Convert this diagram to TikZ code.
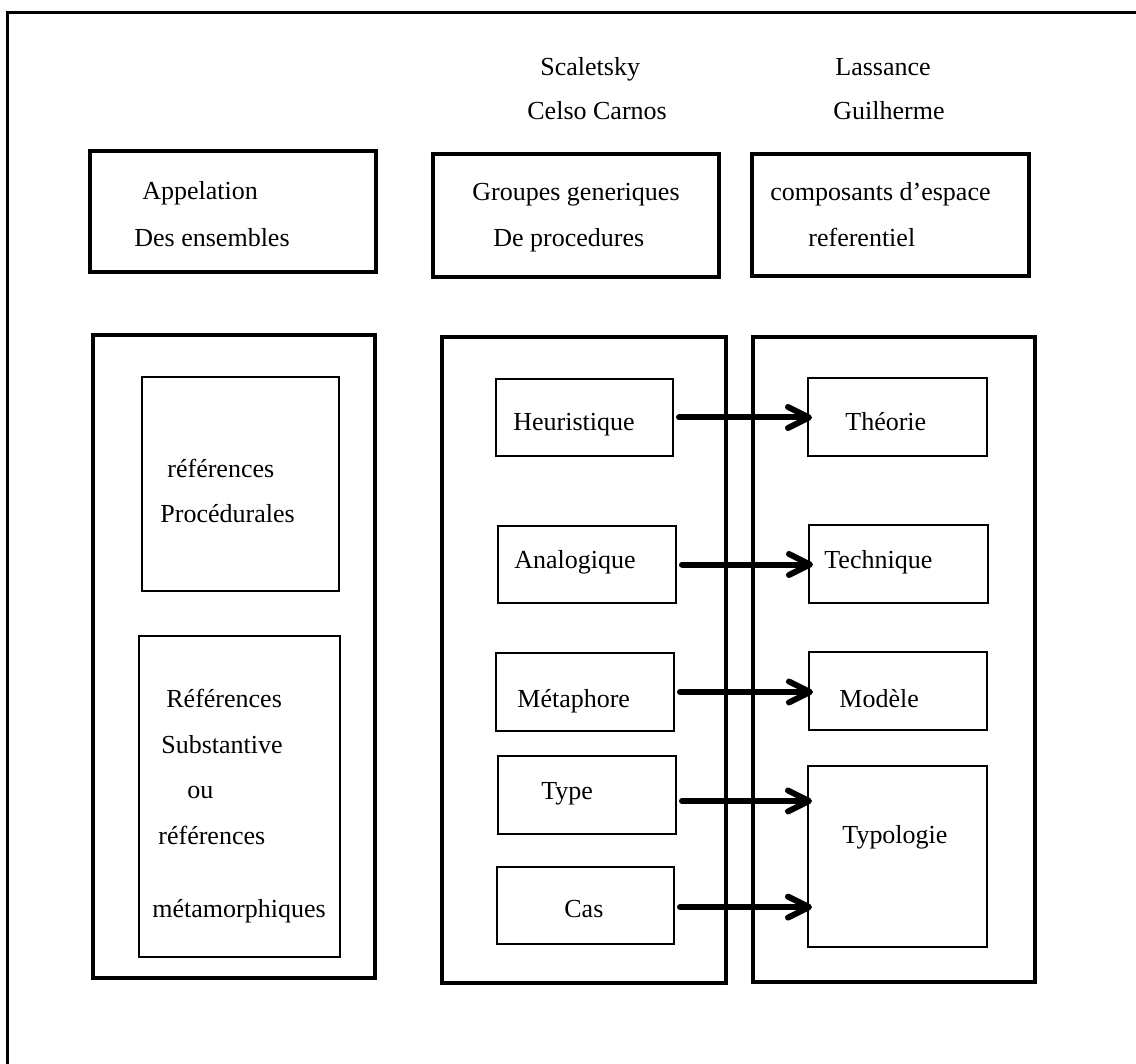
\documentclass[tikz,border=0pt]{standalone}
\usepackage{fontspec}
\setmainfont{Liberation Serif}
\usetikzlibrary{arrows.meta,fit}
\begin{document}
\begin{tikzpicture}[x=0.5pt,y=-0.5pt,
  thickbox/.style={draw,line width=2.2pt,inner sep=0pt,outer sep=0pt},
  bigbox/.style={draw,line width=2pt,inner sep=0pt,outer sep=0pt},
  thinbox/.style={draw,line width=0.9pt,inner sep=0pt,outer sep=0pt},
  txt/.style={anchor=base west,inner sep=0pt,font=\fontsize{13}{15}\selectfont},
  arr/.style={line width=3pt,line cap=round,
    -{Straight Barb[length=10.5pt,width=10.5pt,round]},
    shorten <=3pt,shorten >=-2pt}]
\fill[white] (0,0) rectangle (1136,1064);
\useasboundingbox (0,0) rectangle (1136,1064);

% page frame
\draw[line width=1.5pt] (1136,12.5) -- (7.5,12.5) -- (7.5,1064);

% author headings
\node[txt] (h1a) at (540,76) {Scaletsky};
\node[txt] (h1b) at (527,120) {Celso Carnos};
\node[txt] (h2a) at (835,76) {Lassance};
\node[txt] (h2b) at (833,120) {Guilherme};

% column titles
\node[thickbox,fit={(90,151) (376,272)}] (app) {};
\node[thickbox,fit={(433,154) (719,277)}] (grp) {};
\node[thickbox,fit={(752,154) (1029,276)}] (cmp) {};
\node[txt] (t1a) at (142,200) {Appelation};
\node[txt] (t1b) at (134,247) {Des ensembles};
\node[txt] (t2a) at (472,201) {Groupes generiques};
\node[txt] (t2b) at (493,247) {De procedures};
\node[txt] (t3a) at (770,201) {composants d’espace};
\node[txt] (t3b) at (808,247) {referentiel};

% column frames
\node[bigbox,fit={(93,335) (375,978)}] (colL) {};
\node[bigbox,fit={(442,337) (726,983)}] (colM) {};
\node[bigbox,fit={(753,337) (1035,982)}] (colR) {};

% left column
\node[thinbox,fit={(142,377) (339,591)}] (proc) {};
\node[txt] at (167,477) {références};
\node[txt] at (160,522) {Procédurales};
\node[thinbox,fit={(139,636) (340,957)}] (subst) {};
\node[txt] at (166,707) {Références};
\node[txt] at (161,753) {Substantive};
\node[txt] at (187,798) {ou};
\node[txt] at (158,844) {références};
\node[txt] at (152,917) {métamorphiques};

% middle column
\node[thinbox,fit={(496,379) (673,456)}] (heur) {};
\node[thinbox,fit={(498,526) (676,603)}] (anal) {};
\node[thinbox,fit={(496,653) (674,731)}] (meta) {};
\node[thinbox,fit={(498,756) (676,834)}] (type) {};
\node[thinbox,fit={(497,867) (674,944)}] (cas) {};
\node[txt] at (513,430) {Heuristique};
\node[txt] at (514,568) {Analogique};
\node[txt] at (517,707) {Métaphore};
\node[txt] at (541,799) {Type};
\node[txt] at (564,917) {Cas};

% right column
\node[thinbox,fit={(808,378) (987,456)}] (theo) {};
\node[thinbox,fit={(809,525) (988,603)}] (tech) {};
\node[thinbox,fit={(809,652) (987,730)}] (mod) {};
\node[thinbox,fit={(808,766) (987,947)}] (typo) {};
\node[txt] at (845,430) {Théorie};
\node[txt] at (824,568) {Technique};
\node[txt] at (839,707) {Modèle};
\node[txt] at (842,843) {Typologie};

% links
\draw[arr] (heur.east) -- (heur.east -| theo.west);
\draw[arr] (anal.east) -- (anal.east -| tech.west);
\draw[arr] (meta.east) -- (meta.east -| mod.west);
\draw[arr] ([yshift=-3pt]type.east) -- ([yshift=-3pt]type.east -| typo.west);
\draw[arr] ([yshift=-0.8pt]cas.east) -- ([yshift=-0.8pt]cas.east -| typo.west);
\end{tikzpicture}
\end{document}
